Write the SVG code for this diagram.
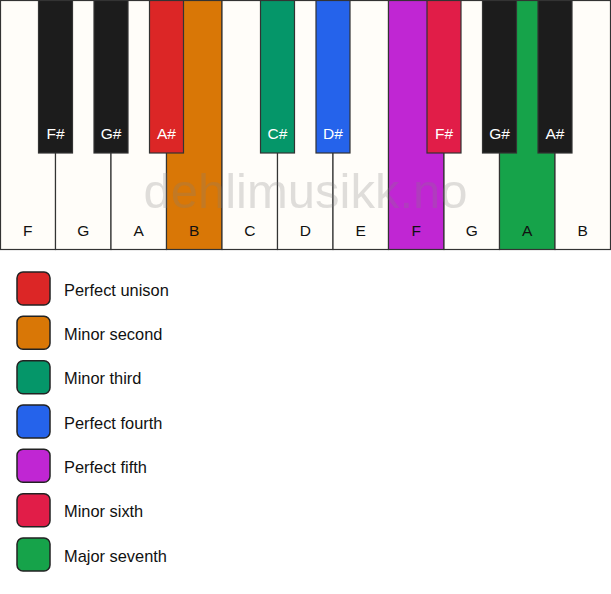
<svg xmlns="http://www.w3.org/2000/svg" width="611" height="594" viewBox="0 0 611 594">
<style>
.w{fill:#fffdf9;stroke:#333;stroke-width:1.2}
.b{fill:#1c1c1c;stroke:#333;stroke-width:1.2}
.wl{font-family:"Liberation Sans",Arial,sans-serif;font-size:15.5px;fill:#111;text-anchor:middle}
.bl{font-family:"Liberation Sans",Arial,sans-serif;font-size:15.5px;fill:#fff;text-anchor:middle}
.sw{stroke:#222;stroke-width:1.5}
.lt{font-family:"Liberation Sans",Arial,sans-serif;font-size:16.4px;fill:#111}
</style>
<rect width="611" height="594" fill="#ffffff"/>
<g id="white-keys">
<g id="key-F1"><rect class="w" x="0.5" y="0.5" width="55" height="249"/><text class="wl" x="27.75" y="236">F</text></g>
<g id="key-G1"><rect class="w" x="55.5" y="0.5" width="55.5" height="249"/><text class="wl" x="83.25" y="236">G</text></g>
<g id="key-A1"><rect class="w" x="111" y="0.5" width="55.5" height="249"/><text class="wl" x="138.75" y="236">A</text></g>
<g id="key-B1"><rect class="w" x="166.5" y="0.5" width="55.5" height="249" style="fill:#d97706"/><text class="wl" x="194.25" y="236">B</text></g>
<g id="key-C"><rect class="w" x="222" y="0.5" width="55.5" height="249"/><text class="wl" x="249.75" y="236">C</text></g>
<g id="key-D"><rect class="w" x="277.5" y="0.5" width="55.5" height="249"/><text class="wl" x="305.25" y="236">D</text></g>
<g id="key-E"><rect class="w" x="333" y="0.5" width="55.5" height="249"/><text class="wl" x="360.75" y="236">E</text></g>
<g id="key-F2"><rect class="w" x="388.5" y="0.5" width="55.5" height="249" style="fill:#c026d3"/><text class="wl" x="416.25" y="236">F</text></g>
<g id="key-G2"><rect class="w" x="444" y="0.5" width="55.5" height="249"/><text class="wl" x="471.75" y="236">G</text></g>
<g id="key-A2"><rect class="w" x="499.5" y="0.5" width="55.5" height="249" style="fill:#16a34a"/><text class="wl" x="527.25" y="236">A</text></g>
<g id="key-B2"><rect class="w" x="555" y="0.5" width="55.5" height="249"/><text class="wl" x="582.75" y="236">B</text></g>
</g>
<g id="black-keys">
<g id="key-Fs1"><rect class="b" x="38.5" y="0.5" width="34" height="152.5"/><text class="bl" x="55.5" y="138.5">F#</text></g>
<g id="key-Gs1"><rect class="b" x="94" y="0.5" width="34" height="152.5"/><text class="bl" x="111" y="138.5">G#</text></g>
<g id="key-As1"><rect class="b" x="149.5" y="0.5" width="34" height="152.5" style="fill:#dc2626"/><text class="bl" x="166.5" y="138.5">A#</text></g>
<g id="key-Cs"><rect class="b" x="260.5" y="0.5" width="34" height="152.5" style="fill:#059669"/><text class="bl" x="277.5" y="138.5">C#</text></g>
<g id="key-Ds"><rect class="b" x="316" y="0.5" width="34" height="152.5" style="fill:#2563eb"/><text class="bl" x="333" y="138.5">D#</text></g>
<g id="key-Fs2"><rect class="b" x="427" y="0.5" width="34" height="152.5" style="fill:#e11d48"/><text class="bl" x="444" y="138.5">F#</text></g>
<g id="key-Gs2"><rect class="b" x="482.5" y="0.5" width="34" height="152.5"/><text class="bl" x="499.5" y="138.5">G#</text></g>
<g id="key-As2"><rect class="b" x="538" y="0.5" width="34" height="152.5"/><text class="bl" x="555" y="138.5">A#</text></g>
</g>
<g id="watermark"><text x="305.5" y="208" font-family="'Liberation Sans',Arial,sans-serif" font-size="49" text-anchor="middle" fill="#808080" fill-opacity="0.25">dehlimusikk.no</text></g>
<g id="legend">
<g id="legend-unison"><rect class="sw" x="17" y="272" width="33" height="33" rx="6" fill="#dc2626"/><text class="lt" x="64" y="295.7">Perfect unison</text></g>
<g id="legend-minor-second"><rect class="sw" x="17" y="316.3" width="33" height="33" rx="6" fill="#d97706"/><text class="lt" x="64" y="340">Minor second</text></g>
<g id="legend-minor-third"><rect class="sw" x="17" y="360.7" width="33" height="33" rx="6" fill="#059669"/><text class="lt" x="64" y="384.4">Minor third</text></g>
<g id="legend-perfect-fourth"><rect class="sw" x="17" y="405" width="33" height="33" rx="6" fill="#2563eb"/><text class="lt" x="64" y="428.7">Perfect fourth</text></g>
<g id="legend-perfect-fifth"><rect class="sw" x="17" y="449.3" width="33" height="33" rx="6" fill="#c026d3"/><text class="lt" x="64" y="473">Perfect fifth</text></g>
<g id="legend-minor-sixth"><rect class="sw" x="17" y="493.7" width="33" height="33" rx="6" fill="#e11d48"/><text class="lt" x="64" y="517.4">Minor sixth</text></g>
<g id="legend-major-seventh"><rect class="sw" x="17" y="538" width="33" height="33" rx="6" fill="#16a34a"/><text class="lt" x="64" y="561.7">Major seventh</text></g>
</g>
<g id="connectors"></g>
</svg>
